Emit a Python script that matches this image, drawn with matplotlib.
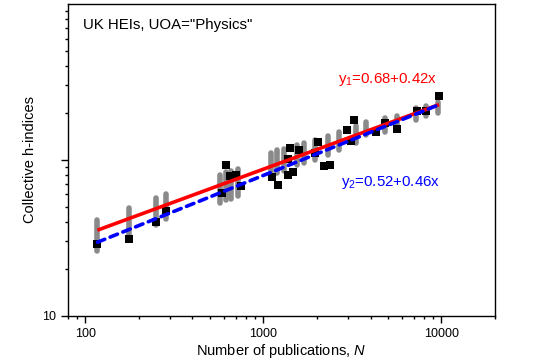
import matplotlib
matplotlib.use("Agg")
import matplotlib.pyplot as plt
import numpy as np

plt.rcParams['font.family'] = ['Liberation Sans', 'DejaVu Sans']
plt.rcParams['mathtext.fontset'] = 'custom'
plt.rcParams['mathtext.rm'] = 'Liberation Sans'
plt.rcParams['mathtext.it'] = 'Liberation Sans:italic'

# black squares: number of publications vs collective h-index
pubs = [117, 176, 250, 283, 583, 617, 650, 700, 753, 1122, 1216, 1374, 1466,
        1380, 1403, 1578, 1960, 2030, 2180, 2380, 2950, 3220, 3100, 4310,
        4850, 5650, 7260, 8170, 9700]
hidx = [28.9, 31.0, 40, 47.3, 61.7, 93, 79, 80, 68.4, 77.4, 69.2, 80, 84,
        102, 119, 116, 111, 131, 91, 93, 156, 181, 132, 150,
        172, 158, 205, 207, 255]

# grey spread bars
grey_N = [117, 176, 250, 283, 570, 620, 660, 720, 1100, 1200, 1300, 1550, 1700,
          1950, 2300, 2650, 3300, 3750, 4850, 5600, 7200, 8200, 9600]
grey_lo = [26, 32, 38, 42, 53, 55, 56, 59, 80, 82, 85, 92, 95,
           100, 108, 115, 128, 145, 152, 160, 180, 190, 200]
grey_hi = [41, 49, 57, 60, 80, 83, 85, 87, 110, 115, 118, 125, 128,
           135, 142, 150, 165, 174, 186, 192, 215, 222, 235]

# fits in log10 space: log h = a + b log N
fit_a = [0.68, 0.52]
fit_b = [0.42, 0.46]
fit_range = [117, 9700]

fig = plt.figure(figsize=(5.5, 3.63), dpi=100)
ax = fig.add_axes([0.1236, 0.1303, 0.7764, 0.8587])

ax.vlines(grey_N, grey_lo, grey_hi, color='#8a8a8a', lw=4, zorder=1,
          capstyle='round')
ax.scatter(pubs, hidx, marker='s', s=32, color='black', zorder=2, linewidths=0)

xx = np.logspace(np.log10(fit_range[0]), np.log10(fit_range[1]), 50)
ax.plot(xx, 10 ** (fit_a[0] + fit_b[0] * np.log10(xx)), color='red', lw=2.6,
        zorder=3, solid_capstyle='butt')
ax.plot(xx, 10 ** (fit_a[1] + fit_b[1] * np.log10(xx)), color='blue', lw=2.6,
        zorder=4, dashes=(2.2, 1.6), dash_capstyle='round')

ax.set_xscale('log')
ax.set_yscale('log')
ax.set_xlim(80, 20000)
ax.set_ylim(10, 1000)
ax.set_xticks([100, 1000, 10000])
ax.set_xticklabels(['100', '1000', '10000'])
ax.set_yticks([10, 100])
ax.set_yticklabels(['10', ''])
ax.tick_params(which='major', direction='out', length=5, width=1, labelsize=9)
ax.tick_params(which='minor', direction='out', length=2.5, width=1)
ax.yaxis.set_minor_formatter(matplotlib.ticker.NullFormatter())
ax.xaxis.set_minor_formatter(matplotlib.ticker.NullFormatter())
for sp in ax.spines.values():
    sp.set_linewidth(1)

ax.set_xlabel(r'Number of publications, $\it{N}$', fontsize=10.5, labelpad=2)
ax.set_ylabel('Collective h-indices', fontsize=10.5, labelpad=4)

ax.text(0.035, 0.933, 'UK HEIs, UOA="Physics"', transform=ax.transAxes,
        fontsize=10.8, va='center', ha='left')
ax.text(0.632, 0.759, r'y$_{\rm 1}$=0.68+0.42x', transform=ax.transAxes,
        fontsize=10.8, va='center', ha='left', color='red')
ax.text(0.639, 0.427, r'y$_{\rm 2}$=0.52+0.46x', transform=ax.transAxes,
        fontsize=10.8, va='center', ha='left', color='blue')

fig.savefig('out.png', dpi=100)
